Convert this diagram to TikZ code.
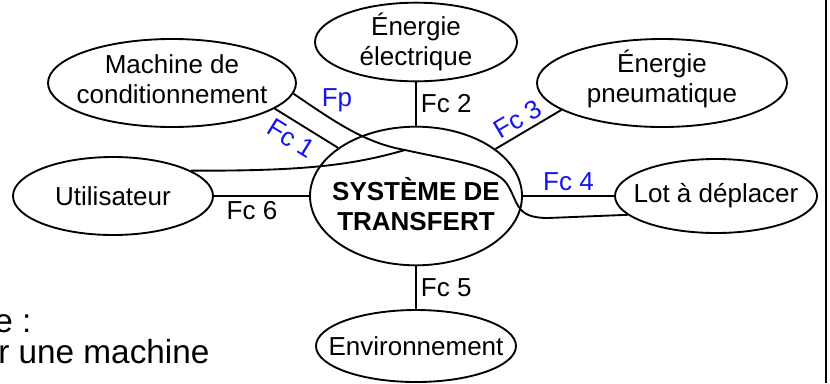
\documentclass[tikz,border=0pt]{standalone}
\usepackage{fontspec}
\setmainfont{Liberation Sans}
\usetikzlibrary{shapes.geometric}
\definecolor{fcblue}{RGB}{20,20,240}
\definecolor{ink}{RGB}{0,0,0}
\newcommand\boxfont{\fontsize{19.5}{22.5}\selectfont}
\newcommand\notefont{\fontsize{25}{29}\selectfont}

\begin{document}
\begin{tikzpicture}[x=0.75pt,y=-0.75pt,font=\boxfont]
        \tikzstyle{blob}=[draw=ink,ellipse,line width=1.4pt,inner sep=0pt]
        \tikzstyle{fclink}=[draw=ink,line width=1.4pt]
        \tikzstyle{fctag}=[inner sep=3pt]
        \useasboundingbox (0,0) rectangle (830,383);
        \node[blob,minimum width=159pt,minimum height=104pt,label={[align=center,font=\boxfont\bfseries,yshift=-6pt]center:SYSTÈME DE\\TRANSFERT}] (sys) at (416,196) {};
        \node[blob,minimum width=151.5pt,minimum height=59pt,label={[align=center]center:Énergie\\électrique}] (elec) at (416,42) {};
        \node[blob,minimum width=186pt,minimum height=66pt,label={[align=center,yshift=3pt]center:Machine de\\conditionnement}] (machine) at (172,83) {};
        \node[blob,minimum width=150pt,minimum height=58.5pt,label={center:Utilisateur}] (user) at (113,196) {};
        \node[blob,minimum width=187.5pt,minimum height=66pt,label={[align=center,yshift=3pt]center:Énergie\\pneumatique}] (pneu) at (662,83) {};
        \node[blob,minimum width=151.5pt,minimum height=55.5pt,label={center:Lot à déplacer}] (lot) at (716,196) {};
        \node[blob,minimum width=150pt,minimum height=54pt,label={center:Environnement}] (env) at (416,346) {};
        \coordinate (fpjoin) at (405,150);
        \draw[fclink] (elec) -- node[fctag,right] {Fc 2} (sys);
        \draw[fclink] (sys) -- node[fctag,right] {Fc 5} (env);
        \draw[fclink] (user) -- node[fctag,below,pos=0.4] {Fc 6} (sys);
        \draw[fclink] (sys) -- node[fctag,above,text=fcblue] {Fc 4} (lot);
        \draw[fclink] (machine.346) -- node[fctag,sloped,below,inner sep=5pt,pos=0.4,text=fcblue] {Fc 1} (sys);
        \draw[fclink] (sys) -- node[fctag,sloped,above,pos=0.45,text=fcblue] {Fc 3} (pneu.195);
        \draw[fclink] (machine.355) .. controls (335,122) and (365,143) .. (fpjoin)
          .. controls (450,160) and (495,166) .. (507,184)
          .. controls (519,203) and (515,218) .. (548,218) -- (lot.192);
        \draw[fclink] (user.18) .. controls (300,171) and (350,166) .. (fpjoin);
        \node[fctag,text=fcblue] (fp) at (337,100) {Fp};
        \node[anchor=base west,inner sep=0pt,font=\notefont] (note1) at (-6,332) {e :};
        \node[anchor=base west,inner sep=0pt,font=\notefont] (note2) at (-2,363) {r une machine};
        \draw[line width=1.5pt] (826,0) -- (826,383);
      \end{tikzpicture}
\end{document}
